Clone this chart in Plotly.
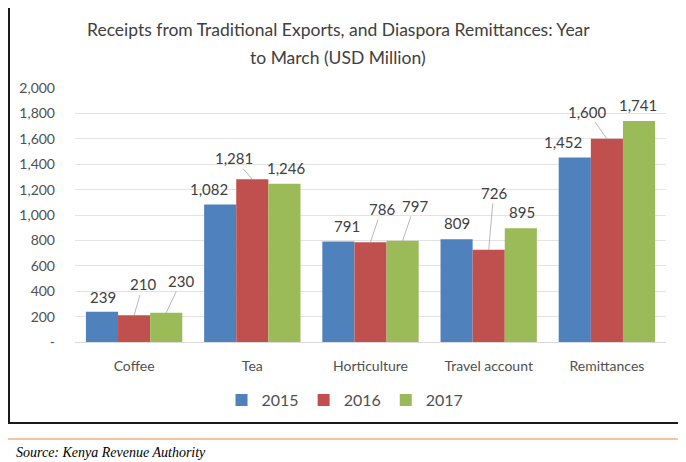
import plotly.graph_objects as go

# ── данные ─────────────────────────────────────────────
categories = ["Coffee", "Tea", "Horticulture", "Travel account", "Remittances"]
years = ["2015", "2016", "2017"]
v2015 = [239, 1082, 791, 809, 1452]
v2016 = [210, 1281, 786, 726, 1600]
v2017 = [230, 1246, 797, 895, 1741]

y_ticks = [0, 200, 400, 600, 800, 1000, 1200, 1400, 1600, 1800, 2000]
y_ticktext = ["-", "200", "400", "600", "800", "1,000", "1,200", "1,400", "1,600", "1,800", "2,000"]

title_lines = ["Receipts from Traditional Exports, and Diaspora Remittances: Year",
               "to March (USD Million)"]
source = "Source: Kenya Revenue Authority"

# ── оформление ─────────────────────────────────────────
# страница имеет отступ body 8px, поэтому фигура чуть меньше окна
OFF = 8
W, H = 686 - OFF, 462 - OFF
L, R, T, B = 75 - OFF, 20, 88 - OFF, 120
colors = ["#4F81BD", "#C0504D", "#9BBB59"]
FONT = "Lato"
BARGAP = 0.185

# смещение подписей (px) от верха столбца: (dx, dy, с выноской?)
label_offsets = {
    (0, 0): (1, -15, False), (0, 1): (9, -31, True), (0, 2): (15, -32, True),
    (1, 0): (-11, -16, False), (1, 1): (-18, -21, True), (1, 2): (2, -16, False),
    (2, 0): (9, -16, False), (2, 1): (11, -33, True), (2, 2): (12, -35, True),
    (3, 0): (0, -16, False), (3, 1): (5, -57, True), (3, 2): (1, -16, False),
    (4, 0): (-12, -16, False), (4, 1): (-19, -27, True), (4, 2): (-1, -16, False),
}

pw, ph = W - L - R, H - T - B


def px(x):
    # координата страницы -> paper
    return (x - OFF - L) / pw


def py(y):
    return (H - B - (y - OFF)) / ph


fig = go.Figure()
series = [v2015, v2016, v2017]
for name, vals, c in zip(years, series, colors):
    fig.add_trace(go.Bar(x=categories, y=vals, name=name, marker_color=c, marker_line_width=0))

bw = (1 - BARGAP) / 3
annotations = []
for j, vals in enumerate(series):
    for i, v in enumerate(vals):
        dx, dy, arrow = label_offsets[(i, j)]
        a = dict(x=i + (j - 1) * bw, y=v, xref="x", yref="y", text=f"{v:,}",
                 font=dict(family=FONT, size=15, color="#404040"))
        if arrow:
            a.update(showarrow=True, ax=dx, ay=dy, arrowhead=0, arrowwidth=0.8,
                     arrowcolor="#A6A6A6", standoff=0)
        else:
            a.update(showarrow=False, xshift=dx, yshift=-dy, yanchor="middle")
        annotations.append(a)

for k, line in enumerate(title_lines):
    annotations.append(dict(x=px(338), y=py(30 + 27 * k), xref="paper", yref="paper",
                            text=line, showarrow=False, xanchor="center", yanchor="middle",
                            font=dict(family=FONT, size=17.5, color="#404040")))

annotations.append(dict(x=px(14), y=py(452), xref="paper", yref="paper", text=source,
                        showarrow=False, xanchor="left", yanchor="middle",
                        font=dict(family="Liberation Serif", size=14, color="#000000",
                                  style="italic")))

shapes = [
    dict(type="rect", xref="paper", yref="paper", x0=px(9), x1=px(680), y0=py(423), y1=py(5),
         line=dict(color="#1a1a1a", width=2)),
    dict(type="line", xref="paper", yref="paper", x0=px(0), x1=px(686), y0=py(439), y1=py(439),
         line=dict(color="#F4B183", width=1.5)),
]

fig.update_layout(
    width=W, height=H,
    margin=dict(l=L, r=R, t=T, b=B, autoexpand=False),
    paper_bgcolor="white", plot_bgcolor="white",
    font=dict(family=FONT, color="#595959"),
    barmode="group", bargap=BARGAP, bargroupgap=0,
    xaxis=dict(showgrid=False, showline=True, linecolor="#D9D9D9", linewidth=1,
               automargin=False, ticklabelstandoff=11,
               tickfont=dict(size=14, color="#505050")),
    yaxis=dict(range=[0, 2000], tickvals=y_ticks, ticktext=y_ticktext,
               gridcolor="#E3E3E3", gridwidth=1, zeroline=False, automargin=False,
               ticklabelstandoff=19, tickfont=dict(size=14, color="#505050")),
    legend=dict(orientation="h", xref="container", yref="container",
                x=(345 - OFF) / W, y=1 - (400 - OFF) / H, xanchor="center", yanchor="middle",
                font=dict(size=16, color="#505050"), itemwidth=30),
    annotations=annotations,
    shapes=shapes,
    showlegend=True,
)

fig.write_html("out.html")
